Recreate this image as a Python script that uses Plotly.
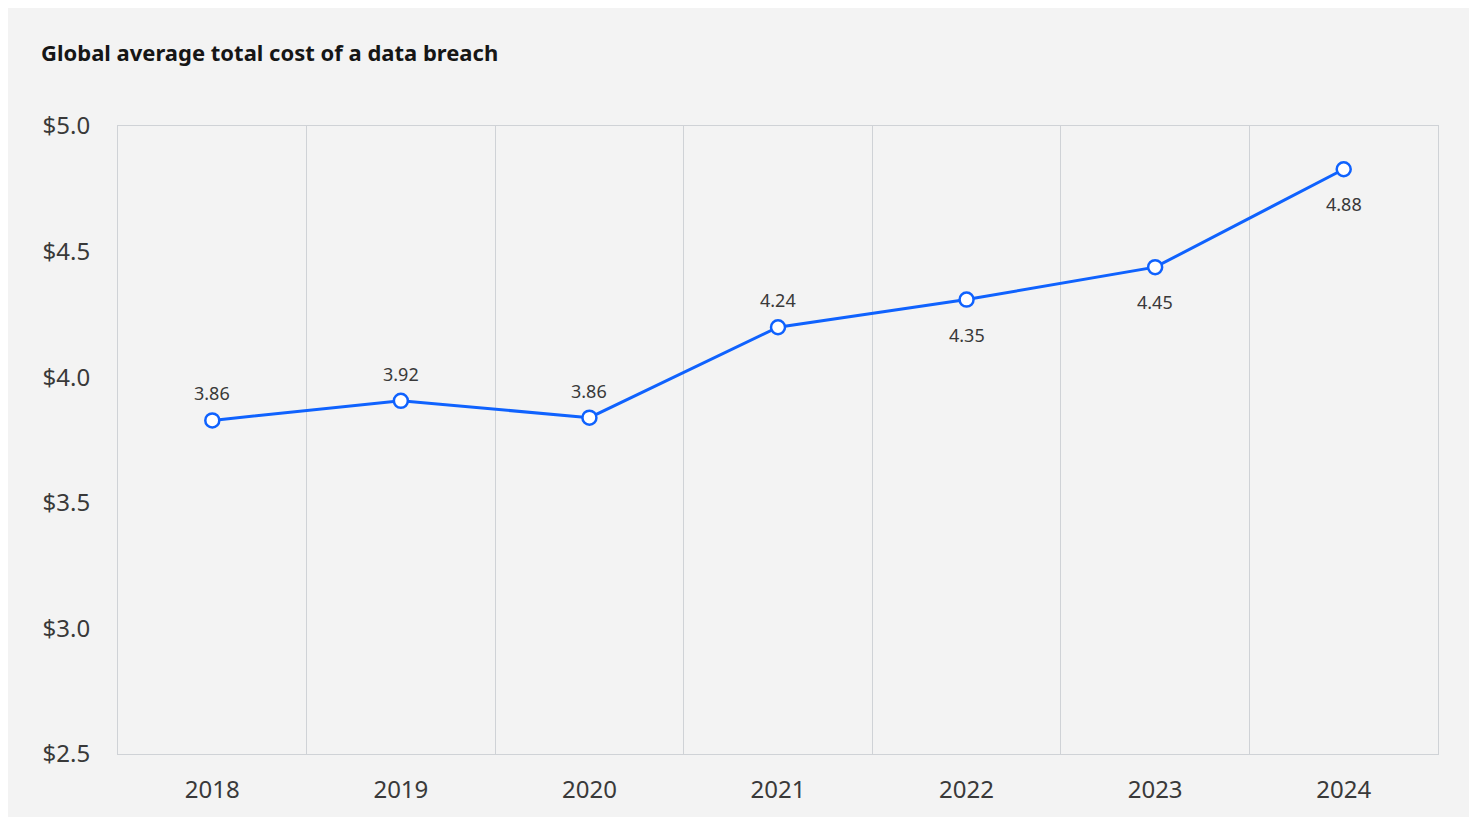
import plotly.graph_objects as go

years = ["2018", "2019", "2020", "2021", "2022", "2023", "2024"]
cost_plotted = [3.828, 3.906, 3.839, 4.199, 4.309, 4.438, 4.828]
cost_labels = ["3.86", "3.92", "3.86", "4.24", "4.35", "4.45", "4.88"]
y_ticks = [2.5, 3.0, 3.5, 4.0, 4.5, 5.0]

label_above = [True, True, True, True, False, False, False]

FONT = "Noto Sans, Open Sans, sans-serif"
BLUE = "#0f62fe"

fig = go.Figure(
    go.Scatter(
        x=years,
        y=cost_plotted,
        mode="lines+markers",
        line=dict(color=BLUE, width=3),
        marker=dict(size=14, color="white", line=dict(color=BLUE, width=2.5)),
        cliponaxis=False,
        hoverinfo="x+y",
    )
)

for i, (val, lab, above) in enumerate(zip(cost_plotted, cost_labels, label_above)):
    fig.add_annotation(
        x=i,
        y=val,
        xref="x",
        yref="y",
        text=lab,
        showarrow=False,
        yshift=27 if above else -35,
        font=dict(family=FONT, size=18, color="#393939"),
    )

fig.update_layout(
    width=1461,
    height=809,
    margin=dict(l=110, r=31, t=118, b=58),
    paper_bgcolor="#f3f3f3",
    plot_bgcolor="#f3f3f3",
    showlegend=False,
    font=dict(family=FONT, color="#393939"),
    title=dict(
        text="<b>Global average total cost of a data breach</b>",
        x=33 / 1461,
        xanchor="left",
        y=1 - 45 / 809,
        yanchor="middle",
        font=dict(family=FONT, size=22, color="#161616"),
    ),
)

fig.update_xaxes(
    type="category",
    range=[-0.5, 6.5],
    tickson="boundaries",
    showgrid=True,
    gridcolor="#cfd2d6",
    gridwidth=1,
    ticks="",
    showline=True,
    mirror=True,
    linecolor="#cfd2d6",
    linewidth=1,
    tickfont=dict(family=FONT, size=24, color="#393939"),
    ticklabelstandoff=14,
    zeroline=False,
)

fig.update_yaxes(
    range=[2.5, 5.0],
    tickvals=y_ticks,
    tickformat="$.1f",
    showgrid=False,
    zeroline=False,
    showline=True,
    mirror=True,
    linecolor="#cfd2d6",
    linewidth=1,
    ticks="",
    tickfont=dict(family=FONT, size=24, color="#393939"),
    ticklabelstandoff=22,
)

fig.write_html("out.html")
